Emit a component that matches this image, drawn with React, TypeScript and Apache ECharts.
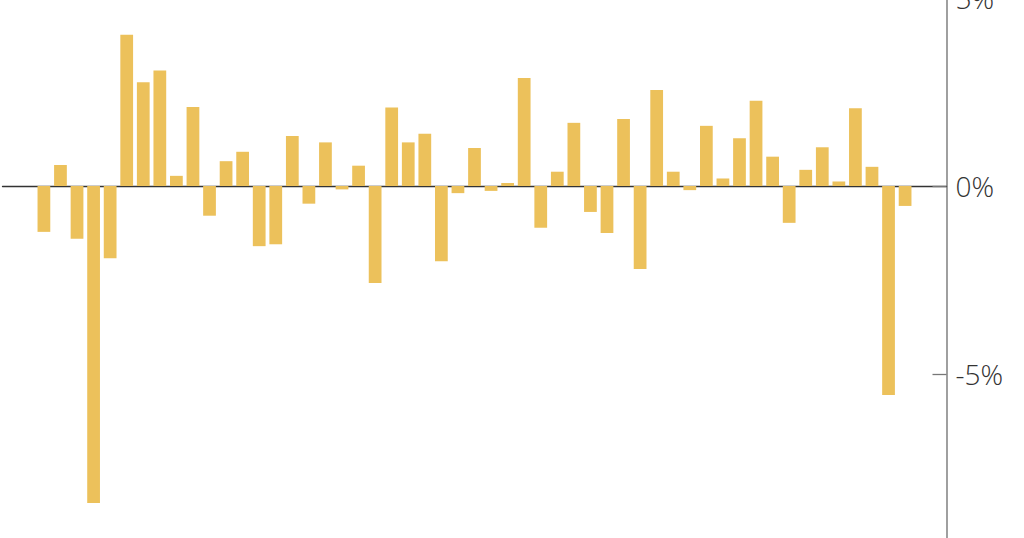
import React, { useEffect, useRef } from "react";
import * as echarts from "echarts";

// 57 slots on the category axis: the first two and the last two are empty
const slots: string[] = Array.from({ length: 57 }, (_, i) => String(i + 1));

// change in percent, left to right
const changes: number[] = [
  -1.22, 0.56, -1.4, -8.43, -1.92, 4.02, 2.76, 3.07, 0.27, 2.1,
  -0.79, 0.66, 0.91, -1.6, -1.55, 1.33, -0.47, 1.16, -0.09, 0.54,
  -2.58, 2.09, 1.16, 1.39, -2.0, -0.19, 1.01, -0.13, 0.08, 2.87,
  -1.11, 0.38, 1.68, -0.69, -1.25, 1.78, -2.21, 2.55, 0.38, -0.11,
  1.6, 0.2, 1.27, 2.27, 0.78, -0.98, 0.43, 1.03, 0.12, 2.07,
  0.51, -5.56, -0.53,
];

const leadingEmpty = 2;
const trailingEmpty = slots.length - leadingEmpty - changes.length;

const yTicks = { min: -10, max: 5, interval: 5 };

const App: React.FC = () => {
  const chartRef = useRef<HTMLDivElement>(null);

  useEffect(() => {
    if (!chartRef.current) return;
    const chart = echarts.init(chartRef.current, undefined, { renderer: "svg" });

    const values: (number | null)[] = [
      ...Array(leadingEmpty).fill(null),
      ...changes,
      ...Array(trailingEmpty).fill(null),
    ];

    chart.setOption({
      animation: false,
      // the plot runs past the bottom of the page, as in the original crop
      grid: {
        left: 2.5,
        top: -2,
        width: 944,
        height: 564,
        containLabel: false,
        outerBoundsMode: "none",
      },
      xAxis: {
        type: "category",
        data: slots,
        axisLine: { onZero: true, lineStyle: { color: "#333", width: 1.3 } },
        axisTick: { show: false },
        axisLabel: { show: false },
        splitLine: { show: false },
      },
      yAxis: {
        type: "value",
        position: "right",
        min: yTicks.min,
        max: yTicks.max,
        interval: yTicks.interval,
        axisLine: { show: true, lineStyle: { color: "#888", width: 1.6 } },
        axisTick: { show: true, inside: true, length: 14, lineStyle: { color: "#777", width: 1.3 } },
        axisLabel: {
          margin: 9,
          showMinLabel: false,
          formatter: (v: number) => `${v}%`,
          fontFamily: "Open Sans",
          fontWeight: 300,
          fontSize: 28,
          color: "#333",
        },
        splitLine: { show: false },
      },
      series: [
        {
          type: "bar",
          data: values,
          barWidth: "77%",
          itemStyle: { color: "#ECC15B" },
        },
      ],
    });

    return () => chart.dispose();
  }, []);

  return (
    <div
      ref={chartRef}
      style={{ position: "fixed", left: 0, top: 0, width: 1024, height: 538, background: "#fff" }}
    />
  );
};

export default App;
